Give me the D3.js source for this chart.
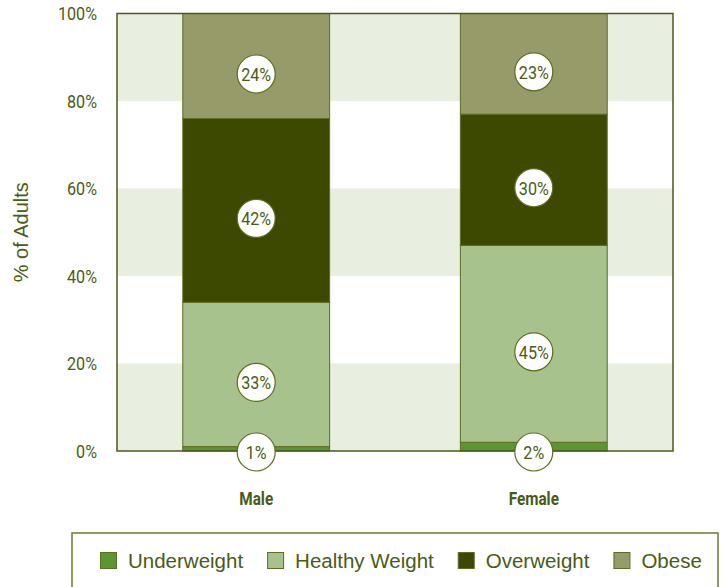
<!DOCTYPE html>
<html>
<head>
<meta charset="utf-8">
<script src="https://cdn.jsdelivr.net/npm/d3@7"></script>
<style>
  html, body { margin: 0; padding: 0; background: #fff; }
  svg { display: block; }
</style>
</head>
<body>
<svg id="chart" width="723" height="587"></svg>
<script>
// Body weight categories of adults by sex (percent of adults)
const categories = ["Male", "Female"];
const seriesNames = ["Underweight", "Healthy Weight", "Overweight", "Obese"];
const underweight = [1, 2];
const healthyWeight = [33, 45];
const overweight = [42, 30];
const obese = [24, 23];
const yTicks = [0, 20, 40, 60, 80, 100];
const yTickLabels = ["0%", "20%", "40%", "60%", "80%", "100%"];
const yTitle = "% of Adults";

const colors = ["#5a9632", "#a7c28d", "#3d4800", "#979b6a"];
const ink = "#4b5a16";
const bandFill = "#e8eee0";
const narrow = "Roboto, 'DejaVu Sans Condensed', sans-serif";
const regular = "'Liberation Sans', Arial, sans-serif";
const squeeze = 0.85; // horizontal compression for the condensed labels

const rows = categories.map((c, i) => ({
  category: c,
  "Underweight": underweight[i],
  "Healthy Weight": healthyWeight[i],
  "Overweight": overweight[i],
  "Obese": obese[i]
}));

const svg = d3.select("#chart");
const plot = { left: 117, right: 673, top: 13.5, bottom: 451 };

const x = d3.scaleBand()
  .domain(categories)
  .range([plot.left, plot.right])
  .paddingInner(0.471)
  .paddingOuter(0.237);

const y = d3.scaleLinear().domain([0, 100]).range([plot.bottom, plot.top]);

// alternating horizontal bands
const bands = d3.range(0, 100, 20).filter((v, i) => i % 2 === 0);
svg.append("g").selectAll("rect").data(bands).join("rect")
  .attr("x", plot.left)
  .attr("width", plot.right - plot.left)
  .attr("y", d => y(d + 20))
  .attr("height", d => y(d) - y(d + 20))
  .attr("fill", bandFill);

// stacked bars
const stack = d3.stack().keys(seriesNames)(rows);
const layers = svg.append("g").selectAll("g").data(stack).join("g")
  .attr("fill", (d, i) => colors[i]);
layers.selectAll("rect").data(d => d).join("rect")
  .attr("x", d => x(d.data.category))
  .attr("width", x.bandwidth())
  .attr("y", d => y(d[1]))
  .attr("height", d => y(d[0]) - y(d[1]))
  .attr("stroke", "#5d6d22")
  .attr("stroke-width", 1);

// plot frame
svg.append("rect")
  .attr("x", plot.left).attr("y", plot.top)
  .attr("width", plot.right - plot.left)
  .attr("height", plot.bottom - plot.top)
  .attr("fill", "none")
  .attr("stroke", ink)
  .attr("stroke-width", 1.5);

// condensed text helper: squeeze horizontally around the anchor point
function condense(sel, px, py) {
  sel.each(function () {
    const t = d3.select(this);
    const ax = px != null ? px : +t.attr("x") || 0;
    const ay = py != null ? py : +t.attr("y") || 0;
    t.attr("transform", `translate(${ax},${ay}) scale(${squeeze},1) translate(${-ax},${-ay})`);
  });
}

// y axis tick labels
const yAxis = d3.axisLeft(y)
  .tickValues(yTicks)
  .tickFormat((d, i) => yTickLabels[i])
  .tickSize(0)
  .tickPadding(20);
const yg = svg.append("g").attr("transform", `translate(${plot.left},0)`).call(yAxis);
yg.select(".domain").remove();
yg.selectAll("text")
  .attr("fill", ink)
  .style("font-family", narrow)
  .style("font-size", "19px");
condense(yg.selectAll("text"), -20, 0);

// x axis category labels
const xAxis = d3.axisBottom(x).tickSize(0).tickPadding(41);
const xg = svg.append("g").attr("transform", `translate(0,${plot.bottom})`).call(xAxis);
xg.select(".domain").remove();
xg.selectAll("text")
  .attr("fill", ink)
  .style("font-family", narrow)
  .style("font-weight", "bold")
  .style("font-size", "18px");
condense(xg.selectAll("text"), 0, 0);

// y axis title
svg.append("text")
  .attr("transform", `translate(28,${(plot.top + plot.bottom) / 2}) rotate(-90)`)
  .attr("text-anchor", "middle")
  .attr("fill", ink)
  .style("font-family", regular)
  .style("font-size", "20px")
  .text(yTitle);

// value badges
const badges = [];
stack.forEach(layer => {
  layer.forEach(d => {
    const mid = (y(d[0]) + y(d[1])) / 2;
    badges.push({
      cx: x(d.data.category) + x.bandwidth() / 2,
      cy: Math.min(mid + 8, plot.bottom + 1),
      label: (d[1] - d[0]) + "%"
    });
  });
});
const bg = svg.append("g").selectAll("g").data(badges).join("g")
  .attr("transform", d => `translate(${d.cx},${d.cy})`);
bg.append("circle")
  .attr("r", 19)
  .attr("fill", "#fff")
  .attr("stroke", "#5d6d22")
  .attr("stroke-width", 1.2);
bg.append("text")
  .attr("text-anchor", "middle")
  .attr("dy", "0.36em")
  .attr("fill", ink)
  .attr("transform", `scale(${squeeze},1)`)
  .style("font-family", narrow)
  .style("font-size", "19px")
  .text(d => d.label);

// legend
const legend = svg.append("g");
legend.append("rect")
  .attr("x", 72).attr("y", 533)
  .attr("width", 646).attr("height", 70)
  .attr("fill", "#fff")
  .attr("stroke", "#6b7a30")
  .attr("stroke-width", 1.5);
let lx = 100;
seriesNames.forEach((name, i) => {
  const item = legend.append("g").attr("transform", `translate(${lx},552)`);
  item.append("rect")
    .attr("x", 0.5).attr("y", 0.5)
    .attr("width", 16).attr("height", 16)
    .attr("fill", colors[i])
    .attr("stroke", "#5d6d22")
    .attr("stroke-width", 1);
  const t = item.append("text")
    .attr("x", 28).attr("y", 16)
    .attr("fill", ink)
    .style("font-family", regular)
    .style("font-size", "20.5px")
    .text(name);
  lx += 28 + t.node().getComputedTextLength() + 24;
});
</script>
</body>
</html>
